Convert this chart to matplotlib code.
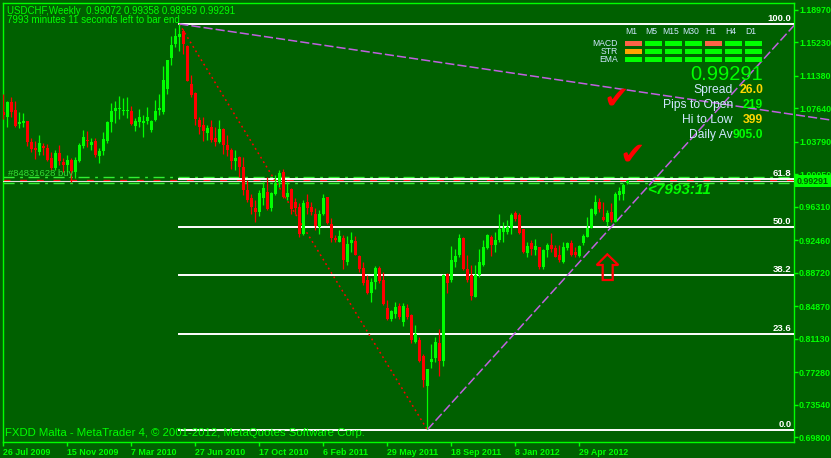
import matplotlib
matplotlib.use('Agg')
import matplotlib.pyplot as plt
from matplotlib.patches import Rectangle, Polygon

# Weekly USDCHF candles (26 Jul 2009 .. Jul 2012)
opens = [1.072, 1.066, 1.083, 1.074, 1.058, 1.059, 1.061, 1.037, 1.030, 1.026,
         1.033, 1.031, 1.019, 1.008, 1.025, 1.014, 1.011, 1.017, 1.003, 1.016,
         1.033, 1.040, 1.034, 1.038, 1.021, 1.027, 1.038, 1.060, 1.073, 1.075,
         1.073, 1.073, 1.073, 1.056, 1.060, 1.059, 1.061, 1.051, 1.063, 1.074,
         1.072, 1.098, 1.134, 1.150, 1.158, 1.165, 1.148, 1.104, 1.094, 1.063,
         1.057, 1.048, 1.055, 1.042, 1.037, 1.052, 1.034, 1.028, 1.016, 1.020,
         1.009, 0.982, 0.973, 0.961, 0.957, 0.973, 0.980, 0.961, 0.978, 0.992,
         1.003, 0.974, 0.983, 0.969, 0.963, 0.932, 0.969, 0.963, 0.955, 0.940,
         0.955, 0.974, 0.943, 0.927, 0.923, 0.927, 0.899, 0.921, 0.924, 0.906,
         0.893, 0.879, 0.864, 0.877, 0.893, 0.879, 0.847, 0.834, 0.840, 0.849,
         0.831, 0.847, 0.838, 0.808, 0.810, 0.791, 0.757, 0.784, 0.789, 0.806,
         0.786, 0.886, 0.879, 0.900, 0.908, 0.927, 0.891, 0.884, 0.859, 0.885,
         0.896, 0.916, 0.928, 0.919, 0.925, 0.934, 0.934, 0.938, 0.956, 0.954,
         0.937, 0.910, 0.921, 0.913, 0.917, 0.894, 0.913, 0.919, 0.916, 0.907,
         0.900, 0.916, 0.921, 0.911, 0.906, 0.921, 0.928, 0.939, 0.955, 0.968,
         0.951, 0.945, 0.957, 0.946, 0.977, 0.978, 0.99072]
highs = [1.093, 1.085, 1.089, 1.084, 1.072, 1.071, 1.061, 1.042, 1.038, 1.045,
         1.036, 1.035, 1.026, 1.028, 1.034, 1.019, 1.023, 1.019, 1.020, 1.036,
         1.051, 1.050, 1.042, 1.042, 1.030, 1.049, 1.061, 1.082, 1.084, 1.090,
         1.088, 1.089, 1.079, 1.065, 1.075, 1.069, 1.078, 1.063, 1.086, 1.093,
         1.125, 1.132, 1.159, 1.169, 1.173, 1.167, 1.149, 1.114, 1.095, 1.066,
         1.066, 1.057, 1.063, 1.055, 1.063, 1.053, 1.045, 1.030, 1.028, 1.021,
         1.020, 0.994, 0.978, 0.971, 0.982, 0.992, 0.997, 0.980, 0.999, 1.005,
         1.006, 0.991, 0.985, 0.973, 0.967, 0.971, 0.978, 0.969, 0.961, 0.959,
         0.978, 0.974, 0.950, 0.930, 0.936, 0.930, 0.929, 0.934, 0.929, 0.907,
         0.900, 0.884, 0.881, 0.895, 0.895, 0.888, 0.856, 0.844, 0.854, 0.852,
         0.852, 0.851, 0.840, 0.827, 0.813, 0.794, 0.777, 0.805, 0.813, 0.823,
         0.886, 0.887, 0.918, 0.914, 0.932, 0.928, 0.907, 0.896, 0.896, 0.914,
         0.925, 0.932, 0.930, 0.934, 0.955, 0.946, 0.948, 0.956, 0.958, 0.956,
         0.937, 0.922, 0.925, 0.926, 0.917, 0.915, 0.921, 0.933, 0.919, 0.919,
         0.923, 0.922, 0.925, 0.917, 0.919, 0.932, 0.951, 0.961, 0.976, 0.973,
         0.968, 0.959, 0.967, 0.980, 0.986, 0.990, 0.99358]
lows = [1.064, 1.055, 1.066, 1.055, 1.053, 1.055, 1.033, 1.026, 1.018, 1.022,
        1.022, 1.016, 1.005, 1.005, 1.011, 1.003, 1.003, 0.991, 0.996, 1.015,
        1.030, 1.032, 1.028, 1.020, 1.013, 1.022, 1.036, 1.049, 1.059, 1.064,
        1.068, 1.065, 1.057, 1.050, 1.055, 1.043, 1.058, 1.049, 1.061, 1.068,
        1.070, 1.093, 1.126, 1.147, 1.142, 1.139, 1.108, 1.089, 1.057, 1.047,
        1.039, 1.040, 1.037, 1.033, 1.036, 1.024, 1.021, 1.006, 1.005, 0.997,
        0.976, 0.969, 0.955, 0.946, 0.952, 0.965, 0.959, 0.958, 0.976, 0.986,
        0.973, 0.971, 0.955, 0.955, 0.928, 0.930, 0.955, 0.953, 0.936, 0.932,
        0.953, 0.943, 0.923, 0.923, 0.922, 0.891, 0.896, 0.911, 0.907, 0.888,
        0.873, 0.863, 0.854, 0.869, 0.875, 0.850, 0.833, 0.832, 0.835, 0.834,
        0.826, 0.834, 0.806, 0.806, 0.784, 0.756, 0.707, 0.778, 0.785, 0.769,
        0.780, 0.864, 0.877, 0.894, 0.905, 0.890, 0.877, 0.856, 0.859, 0.882,
        0.895, 0.915, 0.906, 0.911, 0.922, 0.922, 0.932, 0.932, 0.947, 0.932,
        0.910, 0.905, 0.907, 0.908, 0.892, 0.892, 0.905, 0.911, 0.905, 0.900,
        0.898, 0.913, 0.906, 0.905, 0.905, 0.919, 0.928, 0.938, 0.953, 0.957,
        0.947, 0.941, 0.946, 0.946, 0.971, 0.971, 0.98959]
closes = [1.068, 1.083, 1.072, 1.056, 1.060, 1.061, 1.037, 1.029, 1.028, 1.036,
          1.031, 1.017, 1.008, 1.025, 1.016, 1.011, 1.017, 1.004, 1.017, 1.034,
          1.043, 1.038, 1.037, 1.022, 1.027, 1.041, 1.060, 1.073, 1.077, 1.076,
          1.074, 1.074, 1.058, 1.061, 1.066, 1.062, 1.066, 1.061, 1.073, 1.077,
          1.109, 1.132, 1.149, 1.159, 1.161, 1.150, 1.108, 1.091, 1.064, 1.055,
          1.050, 1.054, 1.040, 1.037, 1.052, 1.034, 1.028, 1.016, 1.019, 1.009,
          0.982, 0.971, 0.963, 0.957, 0.979, 0.984, 0.960, 0.979, 0.990, 1.002,
          0.974, 0.979, 0.960, 0.961, 0.932, 0.967, 0.962, 0.957, 0.941, 0.955,
          0.973, 0.944, 0.927, 0.925, 0.929, 0.902, 0.920, 0.925, 0.907, 0.892,
          0.875, 0.864, 0.877, 0.893, 0.878, 0.851, 0.834, 0.843, 0.848, 0.836,
          0.849, 0.836, 0.810, 0.817, 0.786, 0.764, 0.776, 0.788, 0.808, 0.786,
          0.884, 0.875, 0.902, 0.906, 0.927, 0.891, 0.879, 0.860, 0.885, 0.900,
          0.917, 0.930, 0.919, 0.925, 0.937, 0.938, 0.940, 0.954, 0.949, 0.933,
          0.911, 0.918, 0.915, 0.918, 0.894, 0.913, 0.919, 0.914, 0.905, 0.902,
          0.917, 0.921, 0.907, 0.907, 0.918, 0.929, 0.939, 0.960, 0.968, 0.960,
          0.948, 0.956, 0.948, 0.978, 0.981, 0.988, 0.99291]

date_ticks = [0, 16, 32, 48, 64, 80, 96, 112, 128, 144]
date_labels = ['26 Jul 2009', '15 Nov 2009', '7 Mar 2010', '27 Jun 2010', '17 Oct 2010',
               '6 Feb 2011', '29 May 2011', '18 Sep 2011', '8 Jan 2012', '29 Apr 2012']
price_ticks = [1.18970, 1.15230, 1.11380, 1.07640, 1.03790, 1.00050, 0.96310,
               0.92460, 0.88720, 0.84870, 0.81130, 0.77280, 0.73540, 0.69800]

# fibonacci swing (high bar -> low bar)
swing_hi_idx, swing_hi = 44, 1.1731
swing_lo_idx, swing_lo = 106, 0.7067
fib_levels = [0.0, 23.6, 38.2, 50.0, 61.8, 100.0]
# trend lines: (start bar, start price, end bar, end price)
trend_down = (44, 1.1731, 207, 1.0626)
trend_up = (106, 0.7067, 199, 1.1780)
bid = 0.99291
order_levels = [0.9968, 0.9900]
stop_level = 0.9937

# info panel
tf_names = ['M1', 'M5', 'M15', 'M30', 'H1', 'H4', 'D1']
ind_names = ['MACD', 'STR', 'EMA']
ind_colors = [['#ff6347', '#00ff00', '#00ff00', '#00ff00', '#ff6347', '#00ff00', '#00ff00'],
              ['#ffa500', '#00ff00', '#00ff00', '#00ff00', '#00ff00', '#00ff00', '#00ff00'],
              ['#00ff00'] * 7]
info_labels = ['Spread', 'Pips to Open', 'Hi to Low', 'Daily Av']
info_values = ['26.0', '219', '399', '905.0']
info_colors = ['#ffd700', '#00ff00', '#ffd700', '#00ff00']

BG = '#006000'
LIME = '#00ff00'
W, H = 831, 458


def fx(x):
    return x / W


def fy(y):
    return 1 - y / H


fig = plt.figure(figsize=(W / 100, H / 100), dpi=100, facecolor=BG)
ax = fig.add_axes([fx(2.5), fy(442), (793.5 - 2.5) / W, (442 - 3.3) / H])
ax.set_facecolor(BG)
ax.set_xlim(-0.2, 197.55)
ax.set_ylim(0.69259, 1.19685)
for s in ax.spines.values():
    s.set_color(LIME)
    s.set_linewidth(1)

# candles
for i, (o, h, l, c) in enumerate(zip(opens, highs, lows, closes)):
    col = LIME if c >= o else '#ff0000'
    ax.vlines(i, l, h, color=col, lw=0.9, zorder=4)
    lo_b = min(o, c)
    hgt = max(abs(c - o), 0.0012)
    ax.bar(i, hgt, bottom=lo_b, width=0.75, color=col, lw=0, zorder=5)

# order / bid lines
for lv in order_levels:
    ax.axhline(lv, color='#33ee33', lw=1, ls=(0, (8, 4, 2, 4)), zorder=2)
ax.axhline(stop_level, color='#ff0000', lw=1, ls=(0, (5, 7)), zorder=2)
ax.axhline(bid - 0.0004, color='#e0e0e0', lw=0.8, zorder=3)

# fibonacci retracement
rng = swing_hi - swing_lo
for lv in fib_levels:
    p = swing_lo + lv / 100 * rng
    ax.plot([swing_hi_idx, 197.55], [p, p], color='white', lw=1.4, zorder=3)
    ax.text(197.0, p + 0.0012, '%.1f' % lv, color='white', fontsize=6.8,
            fontweight='bold', family='Liberation Sans', ha='right', va='bottom', zorder=6)
ax.plot([swing_hi_idx, swing_lo_idx], [swing_hi, swing_lo], color='#ff0000', lw=1.1,
        ls=(0, (1.2, 2.2)), zorder=3)

# trend lines
ax.plot([trend_down[0], trend_down[2]], [trend_down[1], trend_down[3]], color='#c060e0',
        lw=1.1, ls=(0, (6, 2)), zorder=3, clip_on=False)
ax.plot([trend_up[0], trend_up[2]], [trend_up[1], trend_up[3]], color='#c060e0',
        lw=1.1, ls=(0, (6, 2)), zorder=3)

# axes ticks
ax.yaxis.tick_right()
ax.set_yticks(price_ticks)
ax.set_yticklabels(['%.5f' % v for v in price_ticks])
ax.set_xticks(date_ticks)
ax.set_xticklabels(date_labels)
ax.tick_params(axis='both', colors=LIME, length=3, width=1, labelsize=6.4, direction='out')
ax.tick_params(axis='y', pad=1)
ax.tick_params(axis='x', pad=1.5)
for lab in ax.get_xticklabels() + ax.get_yticklabels():
    lab.set_fontfamily('Liberation Sans')
    lab.set_fontweight('bold')
for lab in ax.get_xticklabels():
    lab.set_ha('left')

# bid price box on the axis
fig.patches.append(Rectangle((fx(795), fy(187)), 36 / W, 12 / H, transform=fig.transFigure,
                             facecolor=LIME, edgecolor='none', zorder=10))
fig.text(fx(797), fy(181), '%.5f' % bid, color=BG, fontsize=6.4, fontweight='bold',
         family='Liberation Sans', va='center', ha='left', zorder=11)

# header / footer text
fig.text(fx(7), fy(10.7), 'USDCHF,Weekly  %.5f %.5f %.5f %.5f' % (opens[-1], highs[-1], lows[-1], closes[-1]),
         color=LIME, fontsize=7, family='Liberation Sans', va='center')
fig.text(fx(7), fy(20.3), '7993 minutes 11 seconds left to bar end', color=LIME, fontsize=7,
         family='Liberation Sans', va='center')
fig.text(fx(5), fy(433), 'FXDD Malta - MetaTrader 4, © 2001-2012, MetaQuotes Software Corp.',
         color=LIME, fontsize=8.2, family='Liberation Sans', va='center')
fig.text(fx(8), fy(174), '#84831628 buy', color='#33dd33', fontsize=6.8,
         family='Liberation Sans', va='center')
fig.text(fx(647), fy(190), '<7993:11', color=LIME, fontsize=11, fontweight='bold',
         style='italic', family='Liberation Sans', va='center')

# indicator panel
LB = '#cfe6ff'
for k, name in enumerate(tf_names):
    fig.text(fx(631 + 20 * k), fy(32), name, color=LB, fontsize=6.2,
             family='Liberation Sans', ha='center', va='center')
for r, name in enumerate(ind_names):
    yc = 43.3 + 8 * r
    fig.text(fx(618), fy(yc), name, color=LB, fontsize=6.2, family='Liberation Sans',
             ha='right', va='center')
    for k in range(len(tf_names)):
        fig.patches.append(Rectangle((fx(625 + 20 * k), fy(yc + 2.3)), 17 / W, 4.6 / H,
                                     transform=fig.transFigure, facecolor=ind_colors[r][k],
                                     edgecolor='none', zorder=10))
fig.text(fx(763), fy(74), '%.5f' % bid, color=LIME, fontsize=14.5, family='Liberation Sans',
         ha='right', va='center')
for r, (lab, val, col) in enumerate(zip(info_labels, info_values, info_colors)):
    yc = 90 + 15 * r
    fig.text(fx(733), fy(yc), lab, color=LB, fontsize=8.7, family='Liberation Sans',
             ha='right', va='center', zorder=10)
    fig.text(fx(763), fy(yc), val, color=col, fontsize=8.7, fontweight='bold',
             family='Liberation Sans', ha='right', va='center', zorder=10)

# red check marks and up arrow
fig.text(fx(616), fy(99), '\u2714', color='#ff0000', fontsize=22, family='DejaVu Sans',
         ha='center', va='center')
fig.text(fx(632), fy(155), '\u2714', color='#ff0000', fontsize=22, family='DejaVu Sans',
         ha='center', va='center')
arrow_px = [(607.3, 254.3), (618.3, 265), (612.7, 265), (612.7, 280), (602.7, 280),
            (602.7, 265), (596.7, 265)]
fig.patches.append(Polygon([(fx(x), fy(y)) for x, y in arrow_px], closed=True,
                           transform=fig.transFigure, facecolor='none',
                           edgecolor='#ff0000', lw=1.6, zorder=10))

fig.savefig('out.png', dpi=100, facecolor=BG)
